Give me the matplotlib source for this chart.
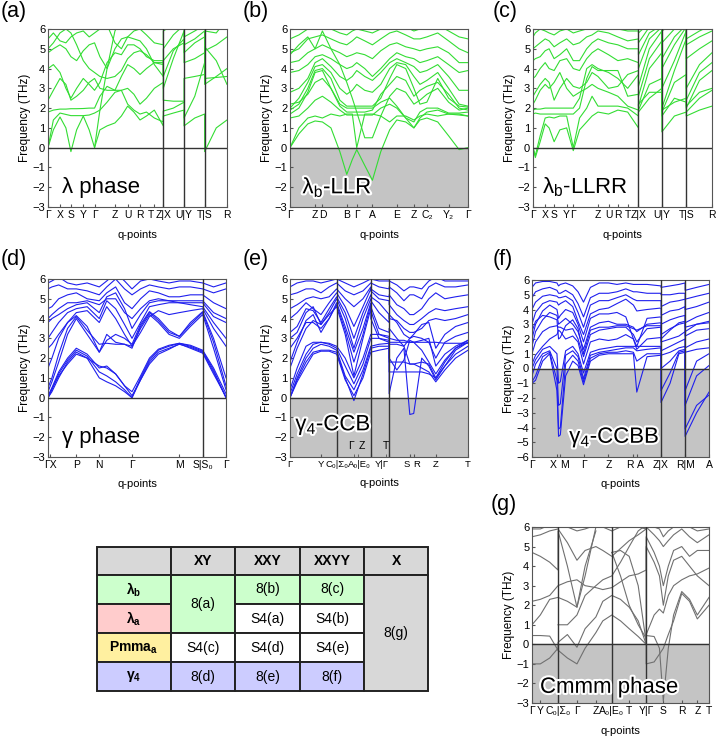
import numpy as np
import matplotlib
matplotlib.use('Agg')
import matplotlib.pyplot as plt
from matplotlib.patches import Rectangle
import matplotlib.patheffects as pe

plt.rcParams['font.family'] = ['Liberation Sans', 'DejaVu Sans']
plt.rcParams['mathtext.fontset'] = 'custom'
plt.rcParams['mathtext.rm'] = 'Liberation Sans'
plt.rcParams['mathtext.bf'] = 'Liberation Sans:bold'
plt.rcParams['mathtext.it'] = 'Liberation Sans:italic'

nan = np.nan

# ---------------- (a) lambda phase ----------------
q_a = [0, .03, .067, .10, .128, .16, .197, .23, .26, .29, .33, .374, .41, .445, .48, .514, .55, .594, .644,
       .644, .70, .76, .76, .82, .875, .875, .94, 1.0]
ticks_a = [0, .067, .128, .197, .26, .374, .445, .514, .594, .644, .76, .875, 1.0]
labels_a = ['Γ', 'X', 'S', 'Y', 'Γ', 'Z', 'U', 'R', 'T', 'Z|X', 'U|Y', 'T|S', 'R']
breaks_a = [.644, .76, .875]
bands_a = [
    [0, .9, 1.55, 1.0, -.2, .9, 1.6, .9, 0, .9, 1.1, 1.25, 1.6, 2.1, 1.8, 1.4, 1.6, 1.9, 1.1, 1.6, 1.75, 1.9, 1.1, 1.5, 1.7, -.2, 1.0, 1.4],
    [0, 1.4, 1.75, 1.68, 1.62, 1.62, 1.62, 1.65, 1.75, 1.9, 2.3, 2.8, 2.9, 2.2, 1.9, 1.7, 1.8, 1.5, 1.3, 1.85, 2.0, 2.3, 1.5, 2.6, 4.3, 3.5, 3.55, 3.6],
    [1.8, 1.9, 1.95, 1.95, 1.97, 1.97, 1.98, 2.0, 2.0, 2.6, 3.1, 2.9, 2.9, 3.0, 2.7, 2.2, 2.5, 3.0, 3.3, 2.4, 2.35, 2.35, 3.5, 3.6, 3.7, 4.9, 5.2, 5.6],
    [2.4, 2.9, 3.5, 3.2, 2.4, 2.6, 2.9, 3.3, 3.5, 3.0, 2.9, 2.9, 3.6, 4.2, 4.0, 3.7, 4.0, 4.3, 4.3, 3.6, 4.9, 5.5, 4.3, 4.5, 4.8, 5.1, 4.4, 3.2],
    [4.0, 4.2, 3.8, 3.0, 2.5, 3.0, 3.5, 3.2, 2.9, 3.3, 4.3, 4.8, 4.7, 5.2, 5.2, 5.0, 4.6, 4.4, 4.4, 3.0, 4.5, 5.9, 4.8, 5.3, 5.6, 5.9, 5.8, 6.5],
    [4.8, 5.0, 5.2, 5.0, 4.6, 4.4, 4.9, 5.2, 5.3, 4.6, 4.0, 5.0, 5.5, 5.6, 5.5, 5.4, 5.0, 4.2, 3.6, 5.0, 5.7, 6.2, 5.6, 5.9, 6.2, 6.2, 6.3, 6.4],
    [5.5, 5.8, 5.4, 5.3, 5.6, 5.8, 5.9, 5.6, 5.8, 6.0, 6.2, 5.3, 5.0, 5.6, 5.9, 6.0, 5.7, 5.3, 5.2, 5.9, 6.2, 6.3, 6.0, 6.2, 6.3, 6.4, 6.4, 6.5],
    [nan, nan, nan, nan, nan, nan, nan, nan, 0, 1.9, 4.0, 5.9, 6.5, nan, nan, nan, nan, nan, nan, nan, nan, nan, nan, nan, nan, nan, nan, nan],
    [5.0, 5.3, 5.8, 6.0, 5.8, 5.2, 4.4, 4.0, 3.8, 3.6, 3.5, 3.6, 3.9, 4.5, 4.8, 4.9, 4.7, 4.3, 4.2, 4.4, 5.0, 5.3, 5.2, 5.5, 5.9, 3.2, 3.6, 4.0],
]

# ---------------- (b) lambda_b-LLR ----------------
q_b = [0, .05, .10, .141, .182, .23, .28, .319, .35, .375, .42, .463, .51, .56, .60, .65, .696, .73, .769, .83, .891, .95, 1.0]
ticks_b = [0, .141, .182, .319, .375, .463, .60, .696, .769, .891, 1.0]
labels_b = ['Γ', 'Z', 'D', 'B', 'Γ', 'A', 'E', 'Z', 'C₂', 'Y₂', 'Γ']
breaks_b = []
bands_b = [
    [0, .7, 1.2, 1.35, 1.3, 1.0, -.2, -1.35, -.6, -.1, -.9, -1.65, -.2, .9, 1.4, 1.3, 1.0, 1.4, 1.5, 1.3, .6, -.1, 0],
    [0, 1.0, 1.5, 1.6, 1.5, 1.7, 1.6, 1.7, 1.7, 0, 1.7, 1.7, 1.6, 1.3, 1.6, 1.6, 1.4, 1.6, 1.7, 1.6, 1.7, 1.7, 1.6],
    [1.7, 2.0, 2.8, 3.8, 3.9, 3.0, 2.2, 2.0, 2.0, 2.0, 2.0, 2.0, 2.3, 2.5, 2.1, 1.5, 1.3, 1.8, 2.0, 2.0, 1.75, 1.75, 1.8],
    [1.9, 2.2, 3.0, 3.9, 4.0, 3.5, 2.4, 2.1, 2.1, 2.1, 2.1, 2.1, 2.5, 3.5, 4.2, 4.0, 3.0, 2.2, 2.3, 3.5, 2.5, 2.1, 2.05],
    [2.0, 2.5, 3.3, 4.1, 4.2, 3.8, 3.0, 2.7, 2.9, 3.2, 2.9, 2.8, 3.2, 4.0, 4.3, 4.2, 3.6, 3.2, 3.4, 3.8, 3.0, 2.2, 2.1],
    [2.8, 3.0, 3.5, 4.3, 4.5, 4.1, 3.6, 3.4, 3.6, 3.9, 3.6, 3.4, 3.8, 4.3, 4.5, 4.3, 4.1, 3.8, 3.9, 4.2, 3.6, 2.9, 2.9],
    [3.8, 3.9, 4.2, 4.6, 4.7, 4.5, 4.2, 4.0, 4.1, 4.3, 4.0, 3.6, 4.0, 4.5, 4.8, 4.6, 4.5, 4.3, 4.4, 4.6, 4.2, 3.8, 3.9],
    [4.3, 4.4, 4.8, 5.0, 5.2, 5.0, 4.8, 4.6, 4.7, 4.8, 4.7, 4.5, 4.9, 5.2, 5.3, 5.1, 5.0, 4.9, 5.0, 5.1, 4.8, 4.3, 4.3],
    [4.8, 5.0, 5.5, 5.6, 5.7, 5.5, 5.3, 5.2, 5.4, 5.6, 5.4, 5.2, 5.5, 5.8, 5.9, 5.7, 5.5, 5.5, 5.6, 5.8, 5.4, 5.0, 4.8],
    [5.5, 5.7, 6.0, 6.2, 6.3, 6.0, 5.8, 5.7, 5.9, 6.0, 5.9, 5.8, 6.0, 6.2, 6.3, 6.1, 5.9, 6.0, 6.1, 6.2, 5.9, 5.6, 5.5],
    [2.2, 2.3, 2.7, 3.3, 3.5, 3.0, 2.1, 1.8, 1.8, 1.8, 1.8, 1.9, 2.7, 3.2, 3.6, 3.4, 2.6, 2.9, 3.1, 3.3, 2.7, 2.0, 1.9],
    [1.5, 1.6, 2.0, 2.4, 2.6, 2.3, 1.9, 1.65, 1.65, 1.65, 1.65, 1.65, 2.0, 2.2, 2.0, 1.5, 1.0, 1.5, 1.8, 1.9, 1.7, 1.65, 1.6],
    [4.7, 5.2, 5.6, 5.0, 5.9, 5.0, 4.2, 3.3, 2.5, 1.8, .5, .5, 1.6, 2.6, 3.0, 2.8, 2.2, 2.4, 2.7, 3.0, 2.3, 1.9, 2.0],
]

# ---------------- (c) lambda_b-LLRR ----------------
q_c = [0, .013, .04, .068, .09, .118, .15, .188, .225, .26, .30, .33, .363, .422, .474, .529, .589,
       .589, .65, .72, .72, .79, .856, .856, .93, 1.0]
ticks_c = [0, .068, .118, .188, .225, .363, .422, .474, .529, .589, .72, .856, 1.0]
labels_c = ['Γ', 'X', 'S', 'Y', 'Γ', 'Z', 'U', 'R', 'T', 'Z|X', 'U|Y', 'T|S', 'R']
breaks_c = [.589, .72, .856]
bands_c = [
    [0, -.5, .3, 1.2, 1.0, .3, .9, 1.0, -.15, .9, 1.3, 1.6, 1.8, 1.7, 1.9, 1.8, 1.0, 1.8, 2.5, 3.0, .8, 1.6, 1.8, 1.6, 1.9, 2.1],
    [0, -.4, .6, 1.5, 1.55, 1.5, 1.6, 1.6, 0, 1.5, 2.0, 2.6, 2.1, 2.1, 2.1, 2.0, 1.6, 1.9, 3.2, 3.5, 1.6, 2.5, 2.3, 1.8, 2.5, 2.9],
    [1.7, 1.75, 1.7, 1.7, 1.7, 1.7, 1.7, 1.7, 1.7, 2.0, 3.5, 4.1, 3.9, 3.9, 3.9, 2.6, 2.7, 2.1, 4.0, 4.8, 1.8, 3.3, 3.7, 2.0, 3.4, 3.9],
    [1.9, 1.95, 1.95, 2.0, 2.0, 2.0, 2.0, 2.0, 2.0, 2.5, 4.0, 4.2, 4.0, 3.8, 3.5, 3.0, 3.7, 2.6, 4.5, 5.4, 2.0, 3.9, 5.5, 2.4, 3.8, 4.3],
    [2.6, 2.8, 3.2, 3.5, 3.3, 2.4, 3.0, 3.5, 3.1, 3.0, 3.3, 3.8, 3.6, 3.0, 3.1, 3.7, 3.9, 3.1, 5.0, 5.9, 3.0, 4.4, 5.9, 3.0, 4.2, 4.8],
    [3.5, 3.6, 4.0, 4.3, 4.0, 3.9, 4.4, 4.5, 4.0, 3.9, 4.5, 4.8, 5.0, 4.7, 4.4, 4.5, 4.3, 4.0, 5.5, 6.1, 4.0, 5.2, 6.1, 4.5, 5.0, 5.4],
    [4.4, 4.5, 4.6, 4.9, 5.0, 4.5, 4.7, 5.0, 4.4, 4.4, 5.0, 5.3, 5.5, 5.3, 5.2, 5.0, 5.0, 4.7, 5.8, 6.2, 4.5, 5.6, 6.2, 5.2, 5.6, 5.9],
    [5.0, 5.1, 5.3, 5.5, 5.4, 5.1, 5.3, 5.5, 5.2, 5.3, 5.6, 5.7, 5.9, 5.8, 5.6, 5.4, 5.5, 5.3, 6.1, 6.3, 5.3, 6.0, 6.3, 5.5, 5.9, 6.2],
    [5.6, 5.8, 6.0, 5.9, 5.8, 5.7, 5.9, 6.0, 5.8, 5.9, 6.0, 6.1, 6.2, 6.1, 6.0, 5.9, 5.9, 5.8, 6.3, 6.4, 5.9, 6.3, 6.4, 6.0, 6.3, 6.4],
    [2.2, 2.4, 2.9, 3.2, 3.0, 3.3, 3.8, 3.0, 2.6, 2.8, 3.0, 3.2, 3.0, 2.8, 2.6, 2.1, 1.9, 2.2, 2.8, 2.8, 1.9, 2.3, 2.5, 2.1, 2.8, 3.0],
]

# ---------------- (d) gamma phase ----------------
q_d = [0, .022, .06, .11, .159, .22, .288, .33, .38, .43, .472, .52, .57, .62, .68, .738, .80, .869, .869, .93, 1.0]
ticks_d = [.011, .159, .288, .472, .738, .869, 1.0]
labels_d = ['ΓX', 'P', 'N', 'Γ', 'M', 'S|S₀', 'Γ']
breaks_d = [.869]
bands_d = [
    [0, .3, 1.0, 1.8, 2.3, 2.0, 1.0, .8, .6, .3, 0, .9, 1.8, 2.3, 2.5, 2.7, 2.55, 2.3, 2.3, 1.3, 0],
    [0, .4, 1.2, 1.9, 2.4, 2.1, 1.3, 1.1, .8, .4, 0, 1.0, 1.9, 2.4, 2.6, 2.75, 2.6, 2.35, 2.35, 1.4, 0],
    [.1, .5, 1.3, 2.0, 2.5, 2.2, 1.5, 1.6, 1.2, .6, .3, 1.1, 2.0, 2.45, 2.65, 2.75, 2.65, 2.4, 2.4, 1.5, .2],
    [.3, .8, 1.8, 3.2, 4.0, 3.2, 2.3, 3.2, 2.8, 2.7, 2.6, 3.5, 4.2, 3.8, 3.2, 3.0, 3.6, 4.2, 4.2, 2.5, .4],
    [.5, 1.0, 2.2, 3.5, 4.1, 3.4, 2.7, 2.75, 2.7, 2.7, 2.5, 3.6, 4.3, 3.9, 3.3, 3.1, 3.7, 4.3, 4.3, 2.8, .6],
    [2.5, 2.7, 3.2, 3.8, 4.3, 4.4, 3.8, 4.6, 4.0, 3.2, 2.6, 3.3, 4.1, 4.4, 4.2, 4.3, 4.4, 4.5, 4.5, 3.5, 2.6],
    [3.0, 3.3, 3.8, 4.3, 4.5, 4.6, 4.0, 4.9, 4.5, 3.7, 3.0, 3.8, 4.6, 4.7, 4.8, 4.8, 4.7, 4.6, 4.6, 3.8, 3.0],
    [4.0, 4.2, 4.5, 4.8, 4.8, 4.9, 4.7, 5.0, 5.0, 4.3, 4.0, 4.5, 4.9, 5.0, 4.9, 4.9, 4.9, 4.9, 4.9, 4.3, 4.0],
    [4.5, 4.6, 5.0, 5.2, 5.3, 5.0, 4.9, 5.3, 5.6, 4.8, 4.5, 5.0, 5.4, 5.3, 5.1, 5.1, 5.2, 5.2, 5.2, 4.8, 4.5],
    [5.5, 5.6, 5.7, 5.5, 5.5, 5.4, 5.2, 5.6, 6.0, 5.5, 5.2, 5.5, 5.7, 5.6, 5.5, 5.6, 5.6, 5.5, 5.5, 5.3, 5.5],
    [5.8, 5.9, 6.1, 5.8, 5.7, 5.8, 5.6, 5.9, 6.3, 5.9, 5.5, 5.9, 6.0, 5.9, 5.8, 5.9, 5.9, 5.8, 5.8, 5.6, 5.8],
    [3.8, 4.0, 4.2, 4.5, 4.7, 4.8, 4.3, 5.1, 5.3, 4.5, 3.5, 4.2, 4.8, 4.9, 4.9, 4.8, 4.8, 4.8, 4.8, 4.1, 3.8],
    [1.5, 2.0, 3.0, 3.8, 4.15, 3.6, 2.3, 2.9, 3.2, 3.0, 2.7, 3.7, 4.35, 4.0, 3.4, 3.1, 3.8, 4.35, 4.35, 3.0, 1.0],
    [0, .45, 1.1, 1.7, 2.2, 2.0, 1.6, 1.5, 1.2, .6, .1, .9, 1.7, 2.2, 2.45, 2.72, 2.5, 2.25, 2.25, 1.2, .05],
]

# ---------------- (e) gamma4-CCB ----------------
q_e = [0, .04, .09, .13, .174, .22, .262, .262, .31, .359, .41, .454, .454, .50, .557,
       .557, .60, .64, .673, .695, .74, .78, .819, .87, .93, 1.0]
ticks_e = [0, .174, .262, .454, .557, .673, .695, .819, 1.0]
labels_e = ['Γ', 'Y', 'C₀|Σ₀', 'A₀|E₀', 'Y|Γ', 'S', 'R', 'Z', 'T']
inner_ticks_e = [.359, .383, .538]
inner_labels_e = ['Γ', 'Z', 'T']
breaks_e = [.262, .454, .557]
bands_e = [
    [0, .9, 1.8, 2.3, 2.4, 2.4, 2.3, 2.3, 1.0, -.15, 1.2, 2.5, 2.5, 2.6, 2.6, .2, 2.0, 2.5, -.85, -.8, 2.0, 1.6, .9, 1.6, 2.4, 2.8],
    [0, 1.0, 2.0, 2.5, 2.7, 2.6, 2.4, 2.4, 1.1, .4, 1.4, 2.6, 2.6, 2.7, 2.75, 2.8, 2.8, 2.8, 2.8, 2.8, 2.8, 2.8, 2.8, 2.75, 2.75, 2.75],
    [.2, 1.2, 2.2, 2.7, 2.8, 2.7, 2.5, 2.5, 1.6, .7, 1.7, 3.0, 3.0, 3.0, 2.9, 1.8, 1.8, 1.8, 1.7, 1.7, 1.5, 1.3, .8, 1.4, 2.0, 2.4],
    [.4, 1.5, 2.6, 2.8, 2.8, 2.75, 2.6, 2.6, 2.0, 1.0, 2.0, 3.2, 3.2, 3.2, 3.1, 1.3, 1.3, 1.3, 1.3, 1.3, 1.3, 1.2, 1.0, 1.6, 2.2, 2.6],
    [1.5, 2.5, 3.5, 3.9, 3.7, 4.2, 4.6, 4.6, 3.2, 1.1, 3.0, 4.5, 4.0, 3.0, 2.8, 2.0, 1.4, 1.9, 2.9, 2.8, 2.4, 1.8, 1.2, 1.9, 2.5, 2.9],
    [1.8, 2.8, 3.9, 4.2, 3.3, 4.0, 4.8, 4.8, 3.6, 2.3, 3.5, 4.8, 4.6, 3.5, 3.3, 3.5, 3.0, 2.6, 3.0, 3.1, 3.0, 2.8, 2.0, 2.8, 3.1, 3.3],
    [3.0, 3.3, 4.3, 4.6, 3.7, 4.3, 5.0, 5.0, 4.0, 2.5, 4.0, 5.0, 4.9, 4.3, 3.8, 4.2, 3.8, 3.2, 3.0, 3.2, 3.7, 3.8, 2.5, 3.2, 3.6, 3.8],
    [3.3, 3.6, 4.5, 4.4, 3.8, 4.5, 5.1, 5.1, 4.3, 3.0, 4.3, 5.2, 5.1, 4.8, 4.2, 4.0, 3.9, 3.5, 3.3, 3.3, 3.5, 3.9, 4.0, 3.9, 4.0, 4.2],
    [4.0, 4.3, 4.8, 4.5, 4.2, 4.8, 5.3, 5.3, 4.6, 3.6, 4.6, 5.5, 5.4, 5.0, 4.9, 4.7, 4.2, 3.9, 3.7, 3.7, 4.0, 4.3, 4.5, 4.4, 4.5, 4.6],
    [4.5, 4.7, 5.0, 5.1, 5.0, 5.1, 5.5, 5.5, 5.0, 4.6, 5.0, 5.6, 5.5, 5.2, 5.1, 5.2, 4.7, 4.5, 4.2, 4.2, 4.5, 5.0, 5.3, 5.0, 5.1, 5.2],
    [5.2, 5.3, 5.5, 5.5, 5.3, 5.6, 5.8, 5.8, 5.4, 5.2, 5.4, 5.8, 5.8, 5.6, 5.5, 5.6, 5.3, 4.9, 5.2, 5.2, 5.0, 5.6, 5.8, 5.6, 5.6, 5.7],
    [5.6, 5.8, 5.9, 5.9, 5.8, 5.9, 6.0, 6.0, 5.8, 5.6, 5.8, 6.0, 6.0, 5.9, 5.9, 5.9, 5.7, 5.4, 5.6, 5.6, 5.5, 5.9, 6.1, 5.9, 5.9, 5.9],
    [0, .8, 1.6, 2.2, 2.35, 2.35, 2.2, 2.2, .9, .1, 1.0, 2.3, 2.3, 2.4, 2.5, 2.7, 2.7, 2.6, 1.7, 1.7, 1.8, 1.7, 1.0, 1.8, 2.5, 2.8],
    [2.5, 3.0, 3.8, 3.8, 3.5, 4.0, 4.7, 4.7, 3.4, 1.8, 3.2, 4.7, 4.4, 3.2, 3.0, 3.0, 2.9, 2.9, 2.8, 2.8, 2.9, 3.0, 1.6, 2.2, 2.6, 2.9],
]

# ---------------- (f) gamma4-CCBB ----------------
q_f = [0, .02, .06, .10, .141, .15, .16, .19, .23, .26, .291, .33, .38, .432, .48, .53, .573, .592, .65, .729,
       .729, .78, .83, .865, .865, .93, 1.0]
ticks_f = [0, .141, .16, .291, .432, .573, .592, .729, .865, 1.0]
labels_f = ['Γ', 'X', 'M', 'Γ', 'Z', 'R', 'A', 'Z|X', 'R|M', 'A']
breaks_f = [.729, .865]
bands_f = [
    [-1.0, -.8, .5, 1.0, -1.5, -4.6, -4.5, -.5, .5, .2, -1.1, .5, .9, 1.0, 1.0, 1.0, 1.0, -1.6, .8, .9, -2.3, -1.0, 1.0, 1.1, -4.6, -3.0, -1.6],
    [-.9, -.5, .8, 1.1, -.8, -4.1, -4.0, .3, .9, .5, -.9, .7, 1.0, 1.1, 1.1, 1.2, 1.1, .5, 1.0, 1.0, -1.5, -.3, 1.1, 1.2, -4.1, -2.5, -1.8],
    [-.5, .3, 1.0, 1.2, 0, -2.5, -2.4, .9, 1.2, .8, -.7, .9, 1.1, 1.2, 1.3, 1.4, 1.4, 1.2, 1.3, 1.4, 0, .5, 1.2, 1.3, -2.5, -.5, .2],
    [0, .6, 1.3, 1.5, 1.0, -1.0, -.9, 1.2, 1.5, 1.0, -.3, 1.1, 1.3, 1.4, 1.5, 1.5, 1.5, 1.5, 1.5, 1.5, .9, 1.1, 1.4, 1.5, -1.5, .5, 1.0],
    [.3, .9, 1.5, 2.0, 2.3, 2.6, 2.5, 2.0, 2.2, 1.8, .3, 1.8, 2.0, 1.9, 2.0, 2.3, 2.0, 1.3, 2.0, 2.1, 1.2, 1.5, 1.8, 2.0, 1.1, 1.3, 1.4],
    [1.0, 1.8, 2.5, 2.8, 2.9, 2.8, 2.8, 2.6, 2.7, 2.0, .8, 2.3, 2.6, 2.7, 2.8, 2.8, 2.3, 1.8, 2.7, 2.8, 1.8, 2.0, 2.2, 2.5, 1.4, 1.8, 2.0],
    [1.5, 2.5, 3.3, 3.8, 3.6, 3.0, 3.1, 3.4, 3.0, 2.5, 1.3, 2.8, 3.1, 3.2, 3.0, 3.0, 2.8, 2.5, 3.0, 3.1, 2.3, 2.7, 3.0, 3.1, 2.2, 2.6, 2.7],
    [2.0, 3.0, 3.9, 4.3, 4.0, 3.4, 3.6, 4.0, 3.8, 3.0, 1.8, 3.4, 3.7, 3.7, 3.8, 3.5, 2.0, 1.5, 3.4, 3.5, 3.0, 3.3, 3.5, 3.6, 2.5, 3.0, 3.2],
    [3.0, 3.8, 4.4, 4.6, 4.5, 4.3, 4.4, 4.6, 4.2, 3.2, 2.3, 3.7, 4.0, 4.1, 4.4, 4.7, 4.3, 3.9, 4.0, 4.1, 3.6, 3.9, 4.0, 4.2, 3.1, 3.5, 3.8],
    [4.0, 4.5, 4.9, 5.0, 4.9, 4.8, 4.8, 4.9, 4.6, 3.8, 2.8, 4.3, 4.6, 4.6, 4.8, 5.0, 4.7, 4.6, 4.6, 4.6, 4.2, 4.5, 4.6, 4.7, 4.0, 4.2, 4.5],
    [4.8, 5.2, 5.4, 5.5, 5.3, 5.1, 5.1, 5.3, 5.0, 4.4, 3.5, 4.8, 5.1, 5.1, 5.2, 5.4, 5.2, 5.2, 5.1, 5.1, 5.0, 5.0, 5.1, 5.1, 4.7, 4.9, 5.1],
    [5.5, 5.8, 5.9, 5.9, 5.8, 5.6, 5.7, 5.8, 5.6, 5.2, 4.5, 5.5, 5.8, 5.8, 5.7, 5.8, 5.7, 5.7, 5.7, 5.6, 5.5, 5.6, 5.7, 5.8, 5.3, 5.5, 5.7],
    [2.5, 3.2, 3.6, 3.5, 3.3, 2.0, 2.1, 2.9, 3.3, 2.7, 1.0, 2.6, 2.8, 2.8, 2.9, 2.9, 2.7, 2.6, 2.9, 2.9, 2.0, 2.6, 3.1, 3.2, 2.8, 3.0, 3.1],
]

# ---------------- (g) Cmmm phase ----------------
q_g = [0, .047, .10, .147, .147, .20, .254, .30, .361, .40, .451, .451, .50, .549, .60, .645,
       .645, .69, .72, .742, .77, .80, .846, .89, .934, 1.0]
ticks_g = [0, .047, .147, .254, .361, .451, .549, .645, .742, .846, .934, 1.0]
labels_g = ['Γ', 'Y', 'C₀|Σ₀', 'Γ', 'Z', 'A₀|E₀', 'T', 'Y|Γ', 'S', 'R', 'Z', 'T']
breaks_g = [.147, .451, .645]
bands_g = [
    [-1.0, -1.0, -.7, -.2, -.3, -.7, -1.0, -.2, .6, 1.2, 1.5, 1.5, 1.2, .8, .4, 0, -1.0, -.9, -.5, -.2, .5, 1.2, 2.6, 2.2, 1.3, 2.0],
    [.45, .45, .42, -.3, .1, .5, -.15, .8, 1.4, 2.2, 2.5, 2.5, 2.3, 1.9, 1.2, 0, .45, .4, -.2, -2.9, -.2, 1.5, 2.7, 2.3, 1.5, 2.4],
    [1.0, 1.5, 2.3, 2.4, 2.4, 2.2, 1.9, 3.5, 6.0, nan, nan, 4.7, 3.5, 2.0, 1.0, .3, .5, 1.5, 1.8, 1.6, 2.5, 3.0, 3.3, 3.5, 3.6, 3.9],
    [2.2, 2.3, 2.5, 3.0, 3.0, 3.2, 3.3, 3.0, 2.9, 2.8, 2.9, 2.9, 3.2, 3.5, 3.6, 3.8, 5.0, 4.2, 3.5, 2.0, 3.5, 4.3, 4.5, 4.0, 3.5, 3.0],
    [4.7, 4.5, 4.2, 3.8, 5.8, 4.0, 1.9, 4.0, 5.8, nan, nan, 4.7, 4.8, 4.5, 3.0, .1, 5.5, 4.7, 4.0, 3.0, 4.0, 4.8, 5.0, 4.5, 4.8, 4.8],
    [5.5, 5.6, 5.8, 5.9, 5.9, 5.2, 4.3, 4.8, 5.0, 4.8, 4.5, 4.5, 4.9, 5.3, 5.6, 5.9, 6.0, 5.6, 5.3, 5.0, 5.3, 5.6, 5.9, 5.5, 5.2, 5.6],
    [5.9, 5.9, 6.1, 6.2, 6.2, 6.0, 5.8, 5.9, 6.1, 6.0, 5.8, 5.8, 6.0, 6.1, 6.0, 5.9, 6.1, 6.0, 5.9, 5.5, 5.8, 6.0, 6.1, 6.0, 5.8, 5.9],
    [nan, nan, nan, nan, 1.0, 1.0, 1.5, 2.5, 3.0, 3.3, 3.5, 3.5, 4.2, 5.0, 5.8, 6.1, nan, nan, nan, nan, nan, nan, nan, nan, nan, nan],
]

# ---------------- table ----------------
tbl_cols = ['XY', 'XXY', 'XXYY', 'X']
tbl_rows = ['λ$_\\mathbf{b}$', 'λ$_\\mathbf{a}$', 'Pmma$_\\mathbf{a}$', 'γ$_\\mathbf{4}$']
tbl_row_colors = ['#ccffcc', '#ffcccc', '#fff0a0', '#ccccff']
# (text, column, first row, last row, colour)
tbl_cells = [
    ('8(a)', 0, 0, 1, '#ccffcc'),
    ('8(b)', 1, 0, 0, '#ccffcc'),
    ('8(c)', 2, 0, 0, '#ccffcc'),
    ('S4(a)', 1, 1, 1, 'white'),
    ('S4(b)', 2, 1, 1, 'white'),
    ('S4(c)', 0, 2, 2, 'white'),
    ('S4(d)', 1, 2, 2, 'white'),
    ('S4(e)', 2, 2, 2, 'white'),
    ('8(d)', 0, 3, 3, '#ccccff'),
    ('8(e)', 1, 3, 3, '#ccccff'),
    ('8(f)', 2, 3, 3, '#ccccff'),
    ('8(g)', 3, 0, 3, '#d8d8d8'),
]

W, H = 717, 739
fig = plt.figure(figsize=(W / 100, H / 100), dpi=100)
glow = [pe.withStroke(linewidth=3, foreground='white')]


def panel(box, q, bands, color, ticks, labels, breaks, ymin, shade, name, name_pos, letter, letter_pos,
          right_labels=(), xsize=7.5):
    x0, y0, x1, y1 = box
    ax = fig.add_axes([x0 / W, 1 - y1 / H, (x1 - x0) / W, (y1 - y0) / H])
    if shade:
        ax.axhspan(ymin, 0, color='#c4c4c4', zorder=0)
    for b in bands:
        ax.plot(q, b, color=color, lw=0.8, zorder=2)
    ax.axhline(0, color='#333333', lw=1, zorder=3)
    for xb in breaks:
        ax.axvline(xb, color='#333333', lw=1, zorder=3)
    ax.set_xlim(0, 1)
    ax.set_ylim(ymin, 6)
    ax.set_xticks(ticks)
    tl = ax.set_xticklabels(labels)
    # nudge apart labels of q-points that sit almost on top of each other
    for i in range(len(ticks) - 1):
        if ticks[i + 1] - ticks[i] < 0.03:
            tl[i].set_ha('right')
            tl[i + 1].set_ha('left')
    for i in right_labels:
        tl[i].set_ha('right')
    ax.set_yticks(range(ymin, 7))
    ax.tick_params(direction='in', length=2.5, labelsize=8, pad=2, color='#555555')
    ax.tick_params(axis='x', labelsize=xsize)
    for s in ax.spines.values():
        s.set_color('#555555')
    ax.set_xlabel('q-points', fontsize=8, labelpad=7)
    ax.set_ylabel('Frequency (THz)', fontsize=8.5, labelpad=1)
    ax.text(name_pos[0], name_pos[1], name, fontsize=16, va='center', zorder=4,
            path_effects=glow if shade else None)
    fig.text(letter_pos[0] / W, 1 - letter_pos[1] / H, letter, fontsize=15.5, va='top')
    return ax


panel((48, 29, 227, 207), q_a, bands_a, '#33dd33', ticks_a, labels_a, breaks_a, -3, False,
      'λ phase', (.08, -2.0), '(a)', (1, 1), right_labels=[8])
panel((290, 29, 468, 207), q_b, bands_b, '#33dd33', ticks_b, labels_b, breaks_b, -3, True,
      'λ$_\\mathrm{b}$-LLR', (.07, -2.0), '(b)', (243, 1))
panel((533, 29, 712, 207), q_c, bands_c, '#33dd33', ticks_c, labels_c, breaks_c, -3, False,
      'λ$_\\mathrm{b}$-LLRR', (.05, -2.0), '(c)', (493, 1))
panel((48, 279, 226, 457), q_d, bands_d, '#1f1fee', ticks_d, labels_d, breaks_d, -3, False,
      'γ phase', (.08, -2.0), '(d)', (1, 249))
ax_e = panel((290, 279, 468, 457), q_e, bands_e, '#1f1fee', ticks_e, labels_e, breaks_e, -3, True,
             'γ$_\\mathrm{4}$-CCB', (.03, -1.4), '(e)', (243, 249), right_labels=[3, 4], xsize=6.8)
ax_e.set_xticks(inner_ticks_e, minor=True)
ax_e.tick_params(which='minor', direction='in', length=2.5, color='#555555')
for xt, lt, ha in zip(inner_ticks_e, inner_labels_e, ['right', 'left', 'center']):
    ax_e.text(xt, -2.45, lt, fontsize=7.5, ha=ha, va='center')
panel((532, 280, 709, 457), q_f, bands_f, '#1f1fee', ticks_f, labels_f, breaks_f, -6, True,
      'γ$_\\mathrm{4}$-CCBB', (.21, -4.7), '(f)', (493, 249))
panel((532, 527, 709, 703), q_g, bands_g, '#707070', ticks_g, labels_g, breaks_g, -3, True,
      'Cmmm phase', (.045, -2.2), '(g)', (491, 494))

# table drawn in pixel coordinates
col_edges = [96, 170, 235, 300, 365, 429]
row_edges = [546, 574, 604, 633, 663, 692]
tax = fig.add_axes([96 / W, 1 - 692 / H, 333 / W, 146 / H])
tax.set_xlim(95, 430)
tax.set_ylim(693, 545)
tax.axis('off')


def cell(c0, c1, r0, r1, color, text, bold):
    x0, x1 = col_edges[c0], col_edges[c1]
    y0, y1 = row_edges[r0], row_edges[r1]
    tax.add_patch(Rectangle((x0, y0), x1 - x0, y1 - y0, facecolor=color, edgecolor='#222222', lw=1.4))
    tax.text((x0 + x1) / 2, (y0 + y1) / 2, text, ha='center', va='center', fontsize=10,
             fontweight='bold' if bold else 'normal')


cell(0, 1, 0, 1, '#d8d8d8', '', True)
for i, c in enumerate(tbl_cols):
    cell(i + 1, i + 2, 0, 1, '#d8d8d8', c, True)
for i, (r, rc) in enumerate(zip(tbl_rows, tbl_row_colors)):
    cell(0, 1, i + 1, i + 2, rc, r, True)
for text, c, r0, r1, color in tbl_cells:
    cell(c + 1, c + 2, r0 + 1, r1 + 2, color, text, False)

fig.savefig('out.png', dpi=100)
